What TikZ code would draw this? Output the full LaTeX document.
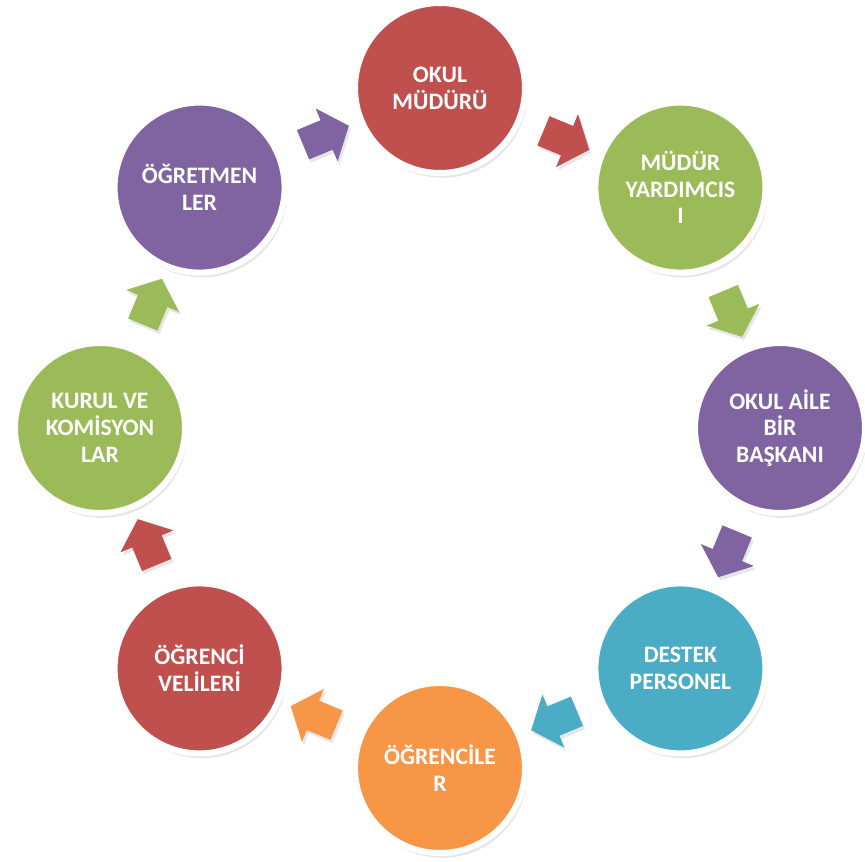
\documentclass[tikz,border=0pt]{standalone}
\usepackage{fontspec}
\setmainfont{Carlito}
\usepackage{xcolor}
\usepackage{tikz}
\usetikzlibrary{shadows,shapes,calc}

\definecolor{rotc}{HTML}{C0504D}
\definecolor{gruenc}{HTML}{9BBB59}
\definecolor{lilac}{HTML}{8064A2}
\definecolor{blauc}{HTML}{4BACC6}
\definecolor{orangec}{HTML}{F79646}

\tikzset{
  kreis/.style={circle, draw=white, line width=4.3pt, minimum size=4.25cm,
    inner sep=0pt, text=white, align=center,
    font=\bfseries\fontsize{16.8}{19}\selectfont,
    drop shadow={opacity=0.2, shadow xshift=0.6mm, shadow yshift=-1.2mm}},
  pfeil/.style={single arrow, draw=none, inner sep=0.39cm,
    minimum height=1.24cm, single arrow head extend=0.32cm,
    single arrow tip angle=100,
    drop shadow={opacity=0.2, shadow xshift=0.5mm, shadow yshift=-0.8mm}}
}

\begin{document}
\begin{tikzpicture}[x=0.025cm,y=0.025cm]
      \useasboundingbox (-440,-433) rectangle (425,428);
      \node [kreis, fill=rotc] (mudur) at (90:340) {OKUL\\MÜDÜRÜ};
      \node [kreis, fill=gruenc] (yardimci) at (45:340) {MÜDÜR\\YARDIMCIS\\I};
      \node [kreis, fill=lilac] (aile) at (0:340) {OKUL AİLE\\BİR\\BAŞKANI};
      \node [kreis, fill=blauc] (destek) at (-45:340) {DESTEK\\PERSONEL};
      \node [kreis, fill=orangec] (ogrenci) at (-90:340) {ÖĞRENCİLE\\R};
      \node [kreis, fill=rotc] (veli) at (-135:340) {ÖĞRENCİ\\VELİLERİ};
      \node [kreis, fill=gruenc] (kurul) at (180:340) {KURUL VE\\KOMİSYON\\LAR};
      \node [kreis, fill=lilac] (ogretmen) at (135:340) {ÖĞRETMEN\\LER};
      \node [pfeil, fill=rotc, rotate=-22.5] (p1) at ($(mudur)!0.5!(yardimci)$) {};
      \node [pfeil, fill=gruenc, rotate=-67.5] (p2) at ($(yardimci)!0.5!(aile)$) {};
      \node [pfeil, fill=lilac, rotate=-112.5] (p3) at ($(aile)!0.5!(destek)$) {};
      \node [pfeil, fill=blauc, rotate=-157.5] (p4) at ($(destek)!0.5!(ogrenci)$) {};
      \node [pfeil, fill=orangec, rotate=157.5] (p5) at ($(ogrenci)!0.5!(veli)$) {};
      \node [pfeil, fill=rotc, rotate=112.5] (p6) at ($(veli)!0.5!(kurul)$) {};
      \node [pfeil, fill=gruenc, rotate=67.5] (p7) at ($(kurul)!0.5!(ogretmen)$) {};
      \node [pfeil, fill=lilac, rotate=22.5] (p8) at ($(ogretmen)!0.5!(mudur)$) {};
    \end{tikzpicture}
\end{document}
